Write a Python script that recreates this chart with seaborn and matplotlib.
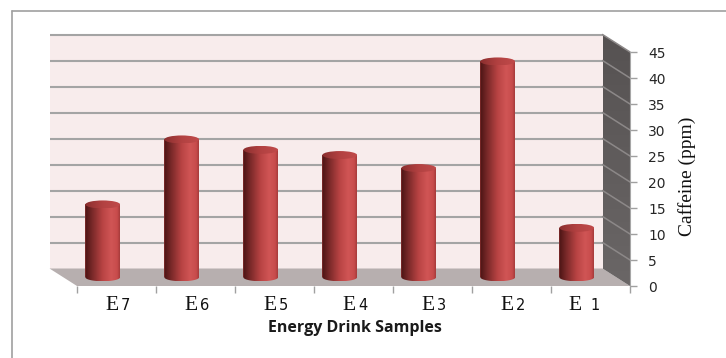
import numpy as np
import pandas as pd
import matplotlib
matplotlib.use("Agg")
import matplotlib.pyplot as plt
import matplotlib.transforms as mtransforms
from matplotlib.patches import Polygon, Ellipse, PathPatch, Rectangle
from matplotlib.path import Path
from matplotlib.colors import LinearSegmentedColormap
from matplotlib.lines import Line2D
import seaborn as sns

# ---- data ----
sample_labels = ["E7", "E6", "E5", "E4", "E3", "E2", "E 1"]
caffeine_ppm = [14.0, 26.5, 24.5, 23.5, 21.0, 41.5, 9.5]
y_ticks = [0, 5, 10, 15, 20, 25, 30, 35, 40, 45]
x_title = "Energy Drink Samples"
y_title = "Caffeine (ppm)"

sns.set_style("white")
plt.rcParams["font.family"] = ["DejaVu Sans"]

W, H = 726, 358
fig = plt.figure(figsize=(W / 100, H / 100), dpi=100)
fig.patch.set_facecolor("white")

# front plane of the pseudo-3D box
ax = fig.add_axes([77 / W, (H - 286) / H, 553 / W, 234 / H])
ax.patch.set_visible(False)

df = pd.DataFrame({"sample": sample_labels, "caffeine": caffeine_ppm})
sns.barplot(data=df, x="sample", y="caffeine", ax=ax, width=0.44,
            color="#b84444", saturation=1, zorder=3)

XMIN, XMAX = -0.5, len(sample_labels) - 0.5
YMAX = y_ticks[-1]
ax.set_xlim(XMIN, XMAX)
ax.set_ylim(0, YMAX)
ax.set_autoscale_on(False)


def shifted(dx_px, dy_px):
    return ax.transData + mtransforms.ScaledTranslation(
        dx_px / 100, dy_px / 100, fig.dpi_scale_trans)


back = shifted(-27.5, 17.5)   # back wall plane
mid = shifted(-13.75, 8.75)   # plane through the cylinder axes


def to_front(points, trans):
    return ax.transData.inverted().transform(trans.transform(points))


def clip_to(artist, patch):
    artist.set_clip_path(patch)
    artist.set_clip_box(fig.bbox)


# back wall
ax.add_patch(Rectangle((XMIN, 0), XMAX - XMIN, YMAX, transform=back,
                       fc="#f8ecec", ec="none", zorder=0, clip_on=False))
for v in y_ticks[1:]:
    ax.plot([XMIN, XMAX], [v, v], transform=back, color="#a4a4a4",
            lw=1.5, zorder=1, clip_on=False, solid_capstyle="butt")

# floor
fb = to_front([(XMIN, 0), (XMAX, 0)], back)
ax.add_patch(Polygon([(XMIN, 0), (XMAX, 0), fb[1], fb[0]], closed=True,
                     fc="#b7afaf", ec="none", zorder=1, clip_on=False))

# right side wall, shaded top to bottom
sb = to_front([(XMAX, 0), (XMAX, YMAX)], back)
side = Polygon([(XMAX, 0), sb[0], sb[1], (XMAX, YMAX)], closed=True,
               fc="none", ec="none", zorder=1, clip_on=False)
ax.add_patch(side)
wall_cmap = LinearSegmentedColormap.from_list("wall", ["#6a6666", "#565252"])
wim = ax.imshow(np.linspace(0, 1, 64).reshape(-1, 1), cmap=wall_cmap,
                extent=(sb[0][0], XMAX, 0, sb[1][1]), aspect="auto",
                zorder=1, interpolation="bilinear", origin="lower")
clip_to(wim, side)
for v in y_ticks[1:]:
    p = to_front([(XMAX, v)], back)[0]
    ax.plot([p[0], XMAX], [p[1], v], color="#8c8888", lw=1.1,
            zorder=2, clip_on=False)

# cylinders
cyl = LinearSegmentedColormap.from_list(
    "cyl", [(0, "#4a1414"), (0.18, "#732626"), (0.5, "#b84343"),
            (0.75, "#d05555"), (0.92, "#c84c4c"), (1, "#a63b3b")])
cap = LinearSegmentedColormap.from_list(
    "cap", [(0, "#8a2e2e"), (0.5, "#b24141"), (1, "#c04a4a")])
grad = np.linspace(0, 1, 256).reshape(1, -1)
px_per_unit = 234 / YMAX
ry = 4.0 / px_per_unit

bars = [b for b in ax.patches if isinstance(b, Rectangle) and b.get_zorder() == 3]
for bar in bars:
    x0, w, h = bar.get_x(), bar.get_width(), bar.get_height()
    x1, xc = x0 + w, x0 + w / 2
    bar.set_transform(mid)
    bar.set_clip_on(False)
    bar.set_edgecolor("none")
    t = np.linspace(0, np.pi, 40)
    arc = np.column_stack([xc + (w / 2) * np.cos(t), -ry * np.sin(t)])
    verts = np.vstack([[(x0, h), (x1, h)], arc, [(x0, h)]])
    body = PathPatch(Path(verts, closed=True), transform=mid,
                     fc="none", ec="none")
    ax.add_patch(body)
    im = ax.imshow(grad, cmap=cyl, extent=(x0, x1, -ry, h), aspect="auto",
                   transform=mid, zorder=4, interpolation="bilinear")
    clip_to(im, body)
    top = Ellipse((xc, h), w, 2 * ry, transform=mid, fc="none", ec="none")
    ax.add_patch(top)
    imc = ax.imshow(grad, cmap=cap, extent=(x0, x1, h - ry, h + ry),
                    aspect="auto", transform=mid, zorder=5,
                    interpolation="bilinear")
    clip_to(imc, top)

ax.set_xlim(XMIN, XMAX)
ax.set_ylim(0, YMAX)

# axes, ticks
for s in ["top", "left", "bottom"]:
    ax.spines[s].set_visible(False)
ax.spines["right"].set_color("#a6a6a6")
ax.spines["right"].set_zorder(2)
ax.set_xlabel("")
ax.set_ylabel("")
ax.set_xticks(range(len(sample_labels)))
ax.set_xticklabels([""] * len(sample_labels))
ax.set_xticks(np.arange(XMIN, XMAX + 0.01, 1), minor=True)
ax.tick_params(axis="x", which="major", length=0)
ax.tick_params(axis="x", which="minor", length=5, width=1, color="#a0a0a0",
               bottom=True)
ax.yaxis.tick_right()
ax.set_yticks(y_ticks)
ax.set_yticklabels([str(v) for v in y_ticks])
ax.tick_params(axis="y", length=5, width=1, color="#a0a0a0", pad=8,
               labelsize=10, labelcolor="#262626", left=False, right=True)

# category labels: serif "E" with a smaller sans number
k = 0.72  # px -> pt
for i, lab in enumerate(sample_labels):
    head, tail = lab[0], lab[1:]
    nudge = -11.0 if " " in lab else 0.0
    ax.annotate(head, xy=(i, 0), xycoords="data",
                xytext=((2.0 + nudge) * k, -24 * k), textcoords="offset points",
                ha="right", va="baseline", fontsize=15.5,
                fontfamily="Liberation Serif", color="#111111",
                annotation_clip=False)
    ax.annotate(tail.strip(), xy=(i, 0), xycoords="data",
                xytext=((4.5 + nudge + (6 if tail.startswith(" ") else 0)) * k,
                        -24 * k), textcoords="offset points",
                ha="left", va="baseline", fontsize=10.5,
                fontfamily="DejaVu Sans", color="#111111",
                annotation_clip=False)

fig.text(355 / W, 1 - 328 / H, x_title, ha="center", va="center",
         fontsize=11.5, fontweight="bold", fontfamily="Open Sans",
         color="#1a1a1a")
fig.text(687 / W, 1 - 176 / H, y_title, rotation=90, ha="center",
         va="center", fontsize=14, fontfamily="Liberation Serif",
         color="#111111")

# outer frame (top and left)
fig.add_artist(Line2D([12 / W, 1], [1 - 11 / H, 1 - 11 / H],
                      transform=fig.transFigure, color="#a0a0a0", lw=1.2))
fig.add_artist(Line2D([12 / W, 12 / W], [0, 1 - 11 / H],
                      transform=fig.transFigure, color="#a0a0a0", lw=1.2))

fig.savefig("out.png", dpi=100)
